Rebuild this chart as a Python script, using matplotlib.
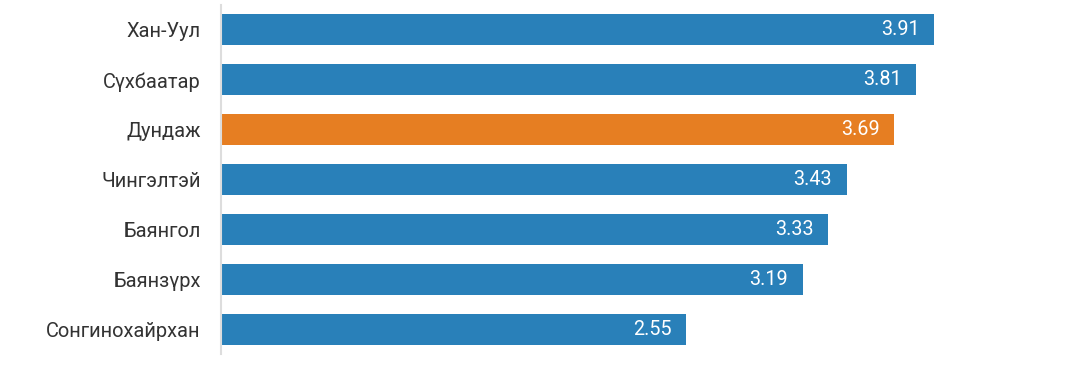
import matplotlib
matplotlib.use('Agg')
from matplotlib import pyplot as plt

districts = ['Хан-Уул', 'Сүхбаатар', 'Дундаж', 'Чингэлтэй', 'Баянгол', 'Баянзүрх', 'Сонгинохайрхан']
scores = [3.91, 3.81, 3.69, 3.43, 3.33, 3.19, 2.55]
highlight = 'Дундаж'

BLUE = '#2980b9'
ORANGE = '#e67e22'

plt.rcParams['font.family'] = ['Roboto', 'DejaVu Sans']

fig = plt.figure(figsize=(10.86, 3.71), dpi=100)
W, H = 1086, 371
ax = fig.add_axes([221 / W, 1 - 354 / H, (1060 - 221) / W, (354 - 5) / H])

colors = [ORANGE if d == highlight else BLUE for d in districts]
ypos = list(range(len(districts)))
ax.barh(ypos, scores, height=0.62, color=colors)

for y, v in zip(ypos, scores):
    ax.annotate(f'{v:.2f}', xy=(v, y), xytext=(-10.5, 0), textcoords='offset points',
                ha='right', va='center', color='white', fontsize=14.2)

ax.set_yticks(ypos)
ax.set_yticklabels(districts, fontsize=14.4, color='#333333')
ax.tick_params(axis='y', length=0, pad=14.5)
ax.set_ylim(len(districts) - 0.5, -0.5)
ax.set_xlim(0, 4.6)
ax.set_xticks([])
for s in ['top', 'right', 'bottom']:
    ax.spines[s].set_visible(False)
ax.spines['left'].set_color('#dddddd')
ax.spines['left'].set_linewidth(1.5)

fig.savefig('out.png', dpi=100)
